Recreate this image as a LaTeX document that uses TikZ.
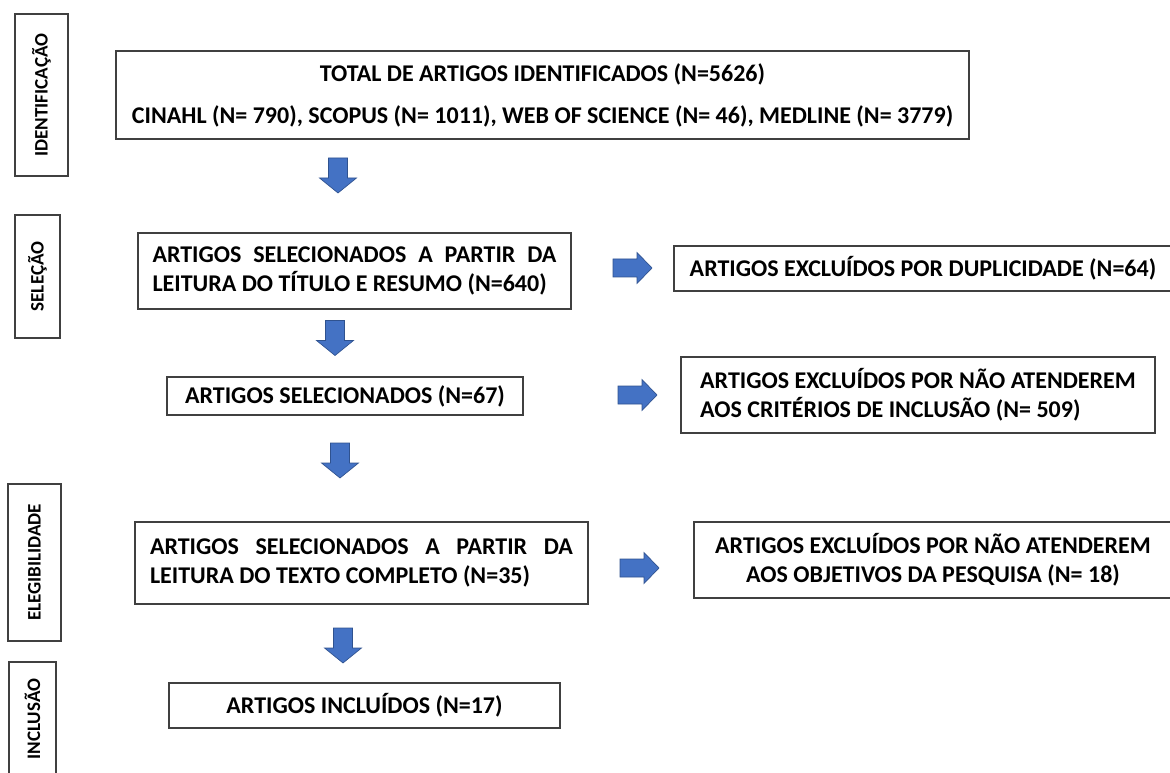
\documentclass[tikz,border=0pt]{standalone}
\usepackage{fontspec}
\setmainfont{Carlito}
\definecolor{arrowblue}{HTML}{4472C4}
\definecolor{arrowedge}{HTML}{2F528F}

\begin{document}
\begin{tikzpicture}[
  x=0.75pt, y=-0.75pt,
  every node/.style={font=\fontsize{18}{21.5}\selectfont\bfseries},
  box/.style={draw=black!75, line width=0.9pt, inner sep=0pt, align=center},
  phase/.style={box, rotate=90, font=\fontsize{14.3}{16}\selectfont\bfseries},
  downarr/.pic={
    \coordinate (-c) at (0,0);
    \filldraw[fill=arrowblue, draw=arrowedge, line width=0.5pt]
      (-9.5,-17.5) -- (9.5,-17.5) -- (9.5,2.5) -- (18.5,2.5)
      -- (0,17.5) -- (-18.5,2.5) -- (-9.5,2.5) -- cycle;
  },
  rightarr/.pic={
    \coordinate (-c) at (0,0);
    \filldraw[fill=arrowblue, draw=arrowedge, line width=0.5pt]
      (-19.5,-9) -- (4.5,-9) -- (4.5,-15.5) -- (19.5,0)
      -- (4.5,15.5) -- (4.5,9) -- (-19.5,9) -- cycle;
  }
]
  \useasboundingbox (0,0) rectangle (1170,773);

  % phases
  \node[phase, minimum width=121.5pt, minimum height=39.75pt] (ident) at (41.5,95) {IDENTIFICAÇÃO};
  \node[phase, minimum width=92.25pt, minimum height=33.75pt] (selec) at (37.5,276.5) {SELEÇÃO};
  \node[phase, minimum width=117.75pt, minimum height=39.75pt] (elegi) at (34.5,562.5) {ELEGIBILIDADE};
  \node[phase, minimum width=85.5pt, minimum height=35.25pt] (inclu) at (32.5,719) {INCLUSÃO};

  % main column
  \node[box, minimum width=639.75pt, minimum height=66pt] (total) at (542.5,95)
    {TOTAL DE ARTIGOS IDENTIFICADOS (N=5626)\\[10pt]
     CINAHL (N= 790), SCOPUS (N= 1011), WEB OF SCIENCE (N= 46), MEDLINE (N= 3779)};
  \node[box, align=left, minimum width=324.75pt, minimum height=57pt] (titulo) at (354.5,271)
    {\makebox[303pt][s]{ARTIGOS SELECIONADOS A PARTIR DA}\\
     LEITURA DO TÍTULO E RESUMO (N=640)};
  \node[box, minimum width=267pt, minimum height=28.5pt] (selecionados) at (345,396)
    {ARTIGOS SELECIONADOS (N=67)};
  \node[box, align=left, minimum width=339.75pt, minimum height=61.5pt] (completo) at (361.5,563)
    {\makebox[317.25pt][s]{ARTIGOS SELECIONADOS A PARTIR DA}\\
     LEITURA DO TEXTO COMPLETO (N=35)};
  \node[box, minimum width=293.25pt, minimum height=33.75pt] (incluidos) at (364.5,705.5)
    {ARTIGOS INCLUÍDOS (N=17)};

  % excluded
  \node[box, minimum width=373.5pt, minimum height=33.75pt] (duplic) at (923,268.5)
    {ARTIGOS EXCLUÍDOS POR DUPLICIDADE (N=64)};
  \node[box, align=left, minimum width=355.5pt, minimum height=57pt] (criterios) at (918,395)
    {ARTIGOS EXCLUÍDOS POR NÃO ATENDEREM\\
     AOS CRITÉRIOS DE INCLUSÃO (N= 509)};
  \node[box, minimum width=358.5pt, minimum height=57pt] (objetivos) at (933,560)
    {ARTIGOS EXCLUÍDOS POR NÃO ATENDEREM\\
     AOS OBJETIVOS DA PESQUISA (N= 18)};

  % arrows
  \pic (d1) at (338,175.5) {downarr};
  \pic (d2) at (335,338) {downarr};
  \pic (d3) at (340,460.5) {downarr};
  \pic (d4) at (343,645.5) {downarr};
  \pic (r1) at (632.5,268) {rightarr};
  \pic (r2) at (637.5,395) {rightarr};
  \pic (r3) at (639.5,568) {rightarr};
\end{tikzpicture}
\end{document}
